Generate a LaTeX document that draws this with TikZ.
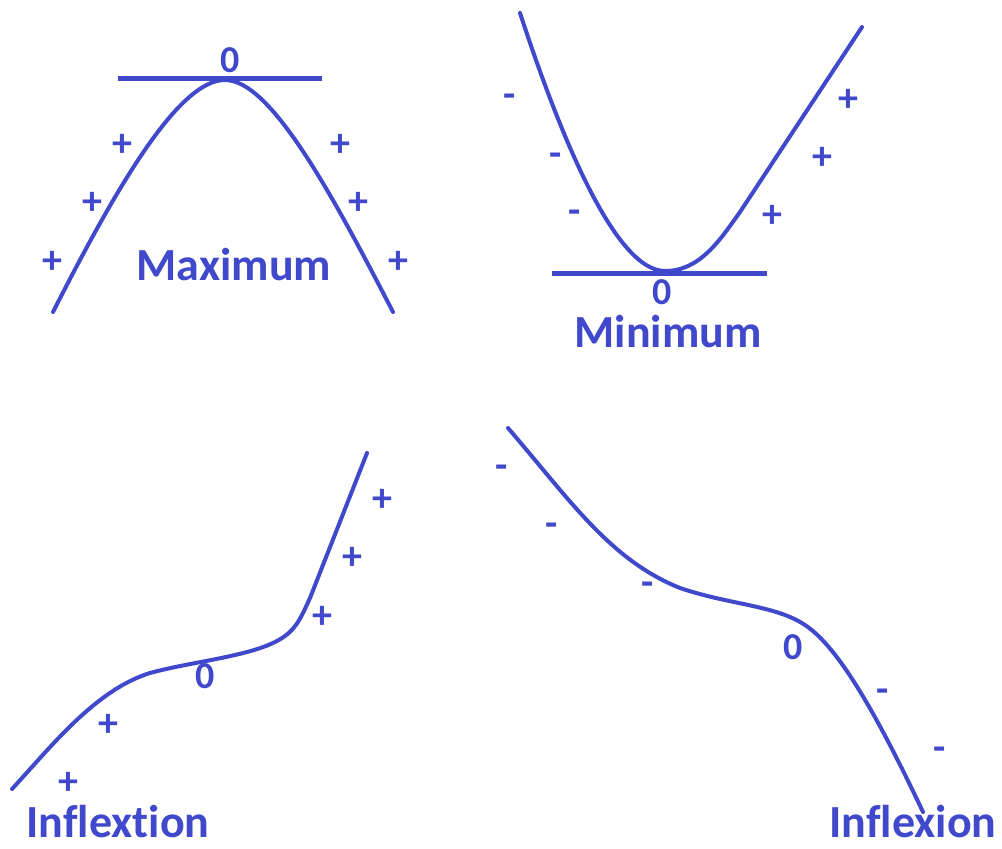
\documentclass[tikz,border=0pt]{standalone}
\usepackage{fontspec}
\setmainfont{Carlito}[Ligatures=CommonOff]
\usepackage{tikz}
\usetikzlibrary{positioning}
\definecolor{curveblue}{RGB}{64,72,204}

\begin{document}
\begin{tikzpicture}[x=1pt, y=-1pt, line join=round,
    every node/.style={text=curveblue, font=\bfseries},
    curve/.style={draw=curveblue, line width=4pt, line cap=round},
    tangent/.style={draw=curveblue, line width=5pt},
    sign/.style={font=\bfseries\fontsize{40}{40}\selectfont, inner sep=0pt},
    zero/.style={font=\bfseries\fontsize{38}{38}\selectfont, inner sep=0pt},
    title/.style={font=\bfseries\fontsize{46}{46}\selectfont, inner sep=0pt}]
  \useasboundingbox (0,0) rectangle (1002,849);

  % maximum
  \draw[tangent] (118,78) -- (322,78);
  \draw[curve] (53,312) .. controls (120,180) and (180,80) .. (225,80)
    .. controls (270,80) and (330,190) .. (393,312);
  \node[zero] (zmax) at (230,60) {0};
  \node[sign] (pa1) at (122,145) {+};
  \node[sign] (pa2) at (92,203) {+};
  \node[sign] (pa3) at (52,262) {+};
  \node[sign] (pb1) at (340,145) {+};
  \node[sign] (pb2) at (358,203) {+};
  \node[sign] (pb3) at (398,262) {+};
  \node[title] (lmax) at (234,265) {Maximum};

  % minimum
  \draw[tangent] (552,273) -- (767,273);
  \draw[curve] (520,13) .. controls (560,135) and (615,271) .. (665,271)
    .. controls (700,271) and (720,240) .. (740,212) -- (862,27);
  \node[zero] (zmin) at (662,292) {0};
  \node[sign] (ma1) at (510,101) {-};
  \node[sign] (ma2) at (556,160) {-};
  \node[sign] (ma3) at (575,217) {-};
  \node[sign] (mb1) at (848,100) {+};
  \node[sign] (mb2) at (822,158) {+};
  \node[sign] (mb3) at (772,216) {+};
  \node[title] (lmin) at (668,332) {Minimum};

  % inflextion, rising
  \draw[curve] (12,789) .. controls (50,748) and (95,690) .. (150,673)
    .. controls (190,662) and (245,657) .. (275,642)
    .. controls (295,632) and (300,620) .. (310,598) -- (367,453);
  \node[zero] (zup) at (205,676) {0};
  \node[sign] (ua1) at (382,500) {+};
  \node[sign] (ua2) at (352,558) {+};
  \node[sign] (ua3) at (322,617) {+};
  \node[sign] (ua4) at (108,725) {+};
  \node[sign] (ua5) at (68,783) {+};
  \node[title] (lup) at (118,822) {Inflextion};

  % inflexion, falling
  \draw[curve] (508,428) .. controls (570,500) and (610,560) .. (680,588)
    .. controls (730,605) and (775,605) .. (805,625)
    .. controls (835,645) and (870,700) .. (923,812);
  \node[zero] (zdn) at (793,647) {0};
  \node[sign] (da1) at (502,472) {-};
  \node[sign] (da2) at (552,530) {-};
  \node[sign] (da3) at (648,589) {-};
  \node[sign] (da4) at (883,696) {-};
  \node[sign] (da5) at (940,754) {-};
  \node[title] (ldn) at (913,822) {Inflexion};
\end{tikzpicture}
\end{document}
